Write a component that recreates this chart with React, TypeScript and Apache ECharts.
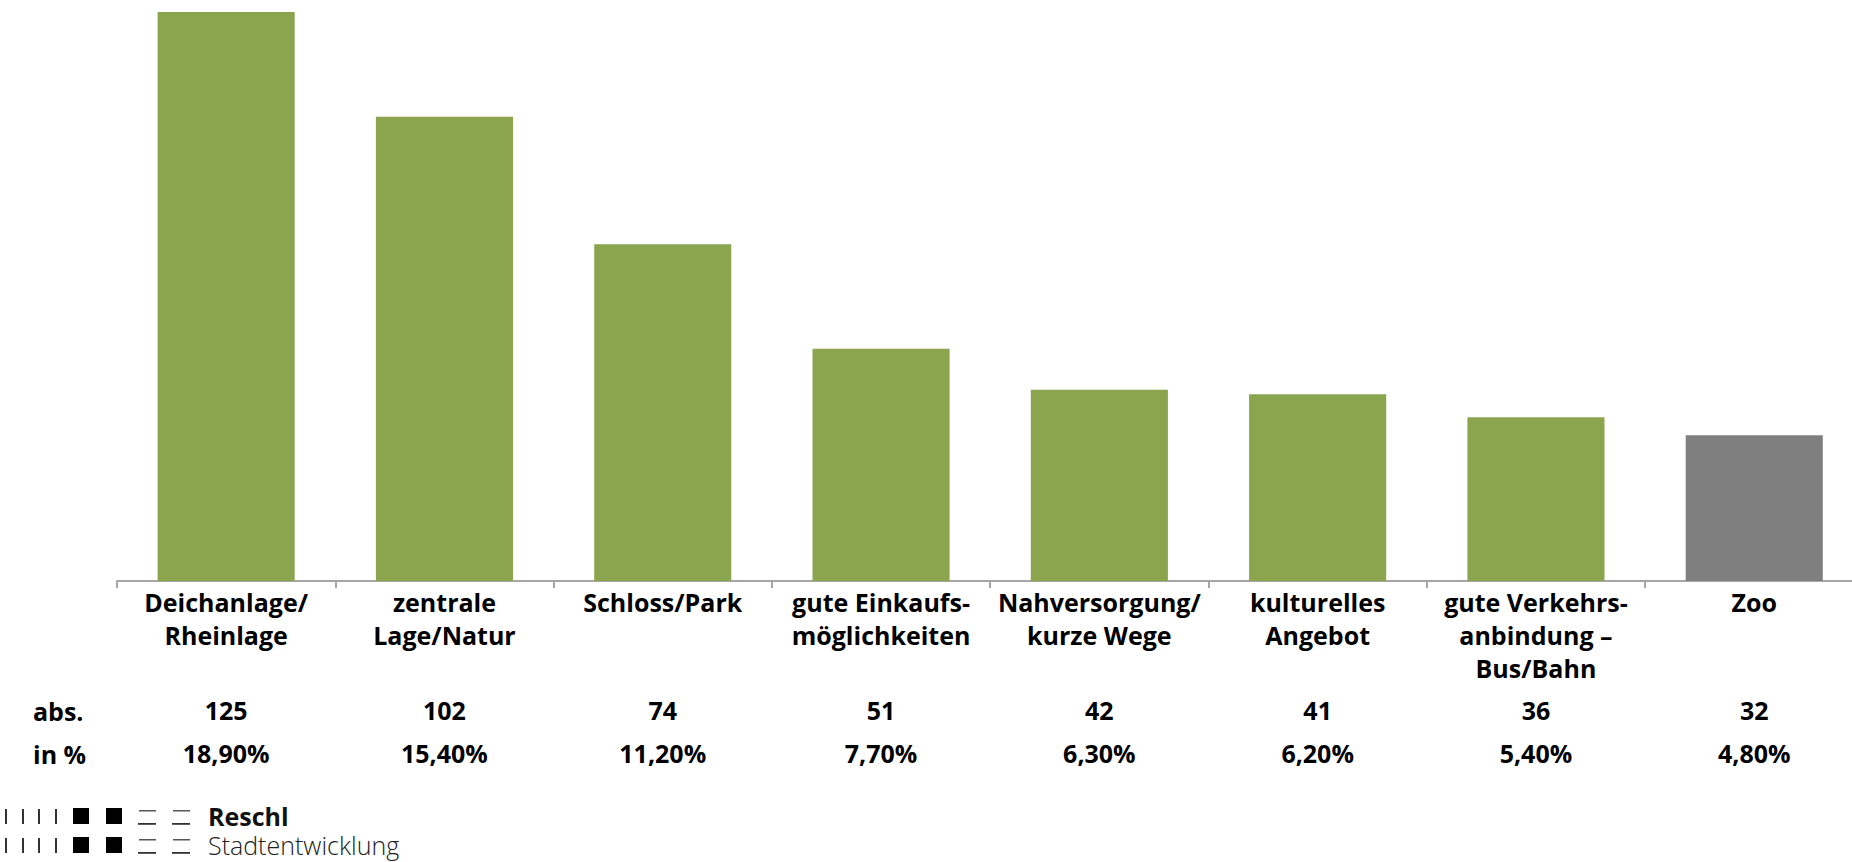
import React, { useEffect, useRef } from "react";
import * as echarts from "echarts";

const categories = [
  "Deichanlage/\nRheinlage",
  "zentrale\nLage/Natur",
  "Schloss/Park",
  "gute Einkaufs-\nmöglichkeiten",
  "Nahversorgung/\nkurze Wege",
  "kulturelles\nAngebot",
  "gute Verkehrs-\nanbindung –\nBus/Bahn",
  "Zoo",
];
const absValues = [125, 102, 74, 51, 42, 41, 36, 32];
const pctLabels = ["18,90%", "15,40%", "11,20%", "7,70%", "6,30%", "6,20%", "5,40%", "4,80%"];
const rowLabels = ["abs.", "in %"];
const logoLines = ["Reschl", "Stadtentwicklung"];

const GREEN = "#8ba54f";
const GRAY = "#7f7f7f";
const FONT = "'Open Sans', 'Noto Sans', sans-serif";

function logoRow(y: number) {
  const els: any[] = [];
  [5, 22, 38, 55].forEach((x) =>
    els.push({ type: "rect", shape: { x, y, width: 2, height: 15 }, style: { fill: "#333" } })
  );
  [73, 106].forEach((x) =>
    els.push({ type: "rect", shape: { x, y: y - 1, width: 16, height: 16 }, style: { fill: "#000" } })
  );
  [138, 172].forEach((x) => {
    els.push({ type: "rect", shape: { x: x + 1, y: y + 1, width: 17, height: 1.5 }, style: { fill: "#555" } });
    els.push({ type: "rect", shape: { x, y: y + 14, width: 18, height: 1.8 }, style: { fill: "#333" } });
  });
  return els;
}

export default function App() {
  const ref = useRef<HTMLDivElement>(null);
  useEffect(() => {
    if (!ref.current) return;
    const chart = echarts.init(ref.current, undefined, { renderer: "svg" });
    const lastIdx = categories.length - 1;
    const baseLabel = {
      interval: 0,
      fontFamily: FONT,
      fontWeight: "bold" as const,
      fontSize: 25,
      lineHeight: 33,
      color: "#000",
    };
    chart.setOption({
      animation: false,
      grid: { left: 117, top: 12, width: 1746.4, height: 569, containLabel: false },
      xAxis: [
        {
          type: "category",
          data: categories,
          axisLine: { show: true, lineStyle: { color: "#a6a6a6", width: 2 } },
          axisTick: { show: true, alignWithLabel: false, interval: 0, length: 7, lineStyle: { color: "#a6a6a6", width: 2 } },
          axisLabel: { ...baseLabel, margin: 4 },
        },
        {
          type: "category",
          data: absValues.map(String),
          position: "bottom",
          offset: 112,
          axisLine: { show: false },
          axisTick: { show: false },
          axisLabel: { ...baseLabel, margin: 0 },
        },
        {
          type: "category",
          data: pctLabels,
          position: "bottom",
          offset: 155,
          axisLine: { show: false },
          axisTick: { show: false },
          axisLabel: { ...baseLabel, margin: 0 },
        },
      ],
      yAxis: { type: "value", min: 0, max: 125, show: false, splitLine: { show: false } },
      series: [
        {
          type: "bar",
          xAxisIndex: 0,
          data: absValues,
          barCategoryGap: "37.2%",
          itemStyle: {
            color: (p: any) => (p.dataIndex === lastIdx ? GRAY : GREEN),
          },
        },
      ],
      graphic: [
        {
          type: "text",
          left: 33,
          top: 710 - 16,
          style: { text: rowLabels[0], font: `bold 25px ${FONT}`, fill: "#000", lineHeight: 33 },
        },
        {
          type: "text",
          left: 33,
          top: 753 - 16,
          style: { text: rowLabels[1], font: `bold 25px ${FONT}`, fill: "#000", lineHeight: 33 },
        },
        { type: "group", children: [...logoRow(809), ...logoRow(838)] },
        {
          type: "text",
          x: 208,
          y: 816,
          style: { text: logoLines[0], font: `bold 25px ${FONT}`, fill: "#111", verticalAlign: "middle", lineHeight: 26 },
        },
        {
          type: "text",
          x: 208,
          y: 845,
          style: { text: logoLines[1], font: `300 25px ${FONT}`, fill: "#222", verticalAlign: "middle", lineHeight: 26 },
        },
      ],
    });
    return () => chart.dispose();
  }, []);
  return (
    <div style={{ position: "absolute", left: 0, top: 0, width: 1852, height: 862, overflow: "hidden", background: "#fff" }}>
      <div ref={ref} style={{ width: 1880, height: 862 }} />
    </div>
  );
}
